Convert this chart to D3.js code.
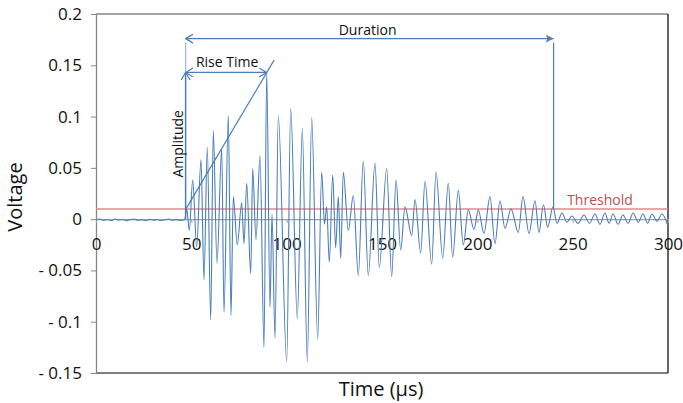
<!DOCTYPE html>
<html>
<head>
<meta charset="utf-8">
<script src="https://cdn.jsdelivr.net/npm/d3@7"></script>
<style>
  body { margin: 0; background: #fff; }
  svg { font-family: "Open Sans", "Noto Sans", sans-serif; }
</style>
</head>
<body>
<svg id="chart" width="683" height="403"></svg>
<script>
// waveform (extrema), time in µs, voltage in V
const waveTime = [0, 2, 4, 6, 8, 10, 12, 14, 16, 18, 20, 22, 24, 26, 28, 30, 32, 34, 36, 38, 40, 42, 44, 46.5,
    47.57, 48.93, 50.72, 52.81, 55.07, 56.64, 58.37, 60.16, 61.52, 63.46, 65.93, 67.13, 69.39, 70.80, 72.01, 74.11,
    76.42, 77.62, 79.04, 81.14, 82.18, 83.92, 86.01, 88.11, 89.53, 91.26, 92.31, 93.88, 95.61, 100.02, 102.11, 105.58,
    108.20, 110.82, 113.13, 116.27, 118.37, 119.84, 121.00, 122.36, 124.14, 125.71, 127.08, 128.34, 129.70, 132.33,
    134.95, 137.57, 140.19, 142.81, 146.33, 148.58, 152.46, 155.08, 157.34, 159.80, 162.06, 165.57, 167.31, 170.29,
    172.55, 176.06, 178.32, 181.83, 184.77, 187.08, 190.02, 192.64, 195.26, 198.25, 200.51, 203.49, 206.64, 209.26,
    211.89, 214.51, 217.66, 221.48, 223.95, 227.09, 230.24, 232.34, 234.70, 236.90, 239.68, 241.78, 244.4, 247.0,
    249.6, 252.8, 255.9, 258.8, 261.7, 264.3, 266.9, 269.1, 271.2, 273.8, 276.4, 279.1, 281.7, 284.4, 286.9, 289.3,
    291.6, 294.2, 296.9, 300];
const waveVolt = [-0.0008, 0.0002, -0.0012, -0.0004, -0.0015, 0.0001, -0.0010, -0.0003, -0.0014, -0.0005, 0.0000, -0.0012,
    -0.0006, -0.0015, -0.0002, -0.0010, -0.0004, -0.0013, -0.0007, 0.0001, -0.0011, -0.0005, -0.0012, -0.0006,
    0.010, -0.011, 0.038, -0.027, 0.058, -0.059, 0.070, -0.098, 0.086, -0.043, 0.069, -0.091, 0.101, -0.094, 0.022, -0.025,
    0.016, -0.024, 0.035, -0.053, 0.049, -0.020, 0.062, -0.125, 0.143, -0.086, 0.005, -0.116, 0.101, -0.139, 0.108, -0.097,
    0.088, -0.139, 0.099, -0.117, 0.046, -0.005, 0.012, -0.042, 0.043, -0.028, 0.022, -0.038, 0.046, -0.011,
    0.023, -0.055, 0.057, -0.055, 0.055, -0.047, 0.049, -0.056, 0.038, -0.030, 0.012, -0.016, 0.019, -0.033,
    0.037, -0.044, 0.046, -0.038, 0.035, -0.037, 0.028, -0.025, 0.009, -0.010, 0.009, -0.014, 0.022, -0.024,
    0.018, -0.009, 0.010, -0.013, 0.022, -0.014, 0.018, -0.013, 0.014, -0.008, 0.012, -0.004, 0.006, -0.003,
    0.003, -0.004, 0.004, -0.004, 0.005, -0.005, 0.006, -0.004, 0.005, -0.005, 0.004, -0.004, 0.006, -0.003, 0.005, -0.004,
    0.005, -0.002, 0.005, -0.007];

const xTicks = [0, 50, 100, 150, 200, 250, 300];
const yTicks = [-0.15, -0.1, -0.05, 0, 0.05, 0.1, 0.15, 0.2];
const yTickLabels = ["- 0.15", "- 0.1", "- 0.05", "0", "0.05", "0.1", "0.15", "0.2"];

// annotation anchors
const threshold = 0.01;
const triggerTime = 47;
const peakTime = 89.5;
const peakVolt = 0.143;
const durationEnd = 240;
const durationLevel = 0.176;
const markerTop = 0.172;
const riseLine = [[47.2, 0.01], [93.4, 0.155]];

const margin = { left: 96, top: 14, right: 15, bottom: 30 };
const plotW = 668 - margin.left, plotH = 373 - margin.top;

const svg = d3.select("#chart");
const blue = "#4a7ebb";

const x = d3.scaleLinear().domain([0, 300]).range([0, plotW]);
const y = d3.scaleLinear().domain([-0.15, 0.2]).range([plotH, 0]);

const defs = svg.append("defs");
defs.append("marker")
    .attr("id", "chev")
    .attr("viewBox", "0 0 8 10")
    .attr("refX", 7.5).attr("refY", 5)
    .attr("markerWidth", 8).attr("markerHeight", 10)
    .attr("markerUnits", "userSpaceOnUse")
    .attr("orient", "auto-start-reverse")
    .append("path")
    .attr("d", "M0,0.5 L7.5,5 L0,9.5")
    .attr("fill", "none")
    .attr("stroke", blue)
    .attr("stroke-width", 1.2);
defs.append("marker")
    .attr("id", "tri")
    .attr("viewBox", "0 0 8 8")
    .attr("refX", 8).attr("refY", 4)
    .attr("markerWidth", 8).attr("markerHeight", 8)
    .attr("markerUnits", "userSpaceOnUse")
    .attr("orient", "auto")
    .append("path")
    .attr("d", "M0,0 L8,4 L0,8 L2,4 Z")
    .attr("fill", blue);

const g = svg.append("g").attr("transform", `translate(${margin.left},${margin.top})`);

// frame: top gray, right + bottom black
g.append("line").attr("x1", 0).attr("x2", plotW).attr("y1", 0).attr("y2", 0)
    .attr("stroke", "#858585").attr("stroke-width", 1.3);
g.append("line").attr("x1", plotW).attr("x2", plotW).attr("y1", 0).attr("y2", plotH)
    .attr("stroke", "#000").attr("stroke-width", 1.2);
g.append("line").attr("x1", 0).attr("x2", plotW).attr("y1", plotH).attr("y2", plotH)
    .attr("stroke", "#000").attr("stroke-width", 1.2);

// y axis
const yAxis = g.append("g")
    .call(d3.axisLeft(y).tickValues(yTicks)
        .tickFormat((d, i) => yTickLabels[i])
        .tickSize(5).tickSizeOuter(0).tickPadding(9));
yAxis.select(".domain").attr("stroke", "#868686").attr("stroke-width", 1.3);
yAxis.selectAll(".tick line").attr("stroke", "#868686");
yAxis.selectAll("text").attr("font-size", 17).attr("fill", "#111")
    .attr("font-family", "Open Sans");

// x axis on the zero line
const xAxis = g.append("g")
    .attr("transform", `translate(0,${y(0)})`)
    .call(d3.axisBottom(x).tickValues(xTicks).tickSize(4).tickSizeOuter(0).tickPadding(15));
xAxis.select(".domain").attr("stroke", "#a0a0a0").attr("stroke-width", 1.2);
xAxis.selectAll(".tick line").attr("stroke", "#a0a0a0");
xAxis.selectAll("text").attr("font-size", 17).attr("fill", "#111")
    .attr("font-family", "Open Sans");

// threshold
g.append("line")
    .attr("x1", 0).attr("x2", plotW)
    .attr("y1", y(threshold)).attr("y2", y(threshold))
    .attr("stroke", "#e08a88").attr("stroke-width", 1.5);

// waveform
const wave = waveTime.map((t, i) => [t, waveVolt[i]]);
g.append("path")
    .datum(wave)
    .attr("fill", "none")
    .attr("stroke", blue)
    .attr("stroke-width", 1.1)
    .attr("d", d3.line().x(d => x(d[0])).y(d => y(d[1])).curve(d3.curveMonotoneX));

// annotations
const ann = g.append("g").attr("fill", "none").attr("stroke", blue);

ann.append("line") // thin upper trigger marker
    .attr("x1", x(triggerTime)).attr("x2", x(triggerTime))
    .attr("y1", y(markerTop)).attr("y2", y(peakVolt))
    .attr("stroke", "#9ab5dc").attr("stroke-width", 1.2);
ann.append("line") // amplitude
    .attr("x1", x(triggerTime)).attr("x2", x(triggerTime))
    .attr("y1", y(0)).attr("y2", y(peakVolt))
    .attr("stroke-width", 1.5)
    .attr("marker-end", "url(#chev)");
ann.append("line") // duration
    .attr("x1", x(triggerTime)).attr("x2", x(durationEnd))
    .attr("y1", y(durationLevel)).attr("y2", y(durationLevel))
    .attr("stroke-width", 1.2)
    .attr("marker-start", "url(#chev)")
    .attr("marker-end", "url(#tri)");
ann.append("line") // duration end
    .attr("x1", x(durationEnd)).attr("x2", x(durationEnd))
    .attr("y1", y(markerTop)).attr("y2", y(threshold))
    .attr("stroke-width", 1.2);
ann.append("line") // rise time
    .attr("x1", x(triggerTime)).attr("x2", x(peakTime))
    .attr("y1", y(peakVolt)).attr("y2", y(peakVolt))
    .attr("stroke-width", 1.2)
    .attr("marker-start", "url(#chev)")
    .attr("marker-end", "url(#chev)");
ann.append("line") // rise slope
    .attr("x1", x(riseLine[0][0])).attr("y1", y(riseLine[0][1]))
    .attr("x2", x(riseLine[1][0])).attr("y2", y(riseLine[1][1]))
    .attr("stroke-width", 1.2);

// annotation labels
g.append("text")
    .attr("x", (x(triggerTime) + x(durationEnd)) / 2 - 2)
    .attr("y", y(durationLevel) - 4)
    .attr("text-anchor", "middle").attr("font-size", 14).attr("fill", "#111")
    .text("Duration");
g.append("text")
    .attr("x", (x(triggerTime) + x(peakTime)) / 2 + 1)
    .attr("y", y(peakVolt) - 5)
    .attr("text-anchor", "middle").attr("font-size", 14).attr("fill", "#111")
    .text("Rise Time");
g.append("text")
    .attr("transform", `translate(${x(triggerTime) - 3},${(y(0) + y(peakVolt)) / 2 - 2}) rotate(-90)`)
    .attr("text-anchor", "middle").attr("font-size", 14).attr("fill", "#111")
    .text("Amplitude");
g.append("text")
    .attr("x", 600 - margin.left)
    .attr("y", y(threshold) - 4)
    .attr("text-anchor", "middle").attr("font-size", 14).attr("fill", "#c0504d")
    .text("Threshold");

// axis titles
svg.append("text")
    .attr("transform", `translate(22,197) rotate(-90)`)
    .attr("text-anchor", "middle").attr("font-size", 20).attr("fill", "#111")
    .text("Voltage");
svg.append("text")
    .attr("x", 381).attr("y", 396)
    .attr("text-anchor", "middle").attr("font-size", 20).attr("fill", "#111")
    .text("Time (μs)");
</script>
</body>
</html>
